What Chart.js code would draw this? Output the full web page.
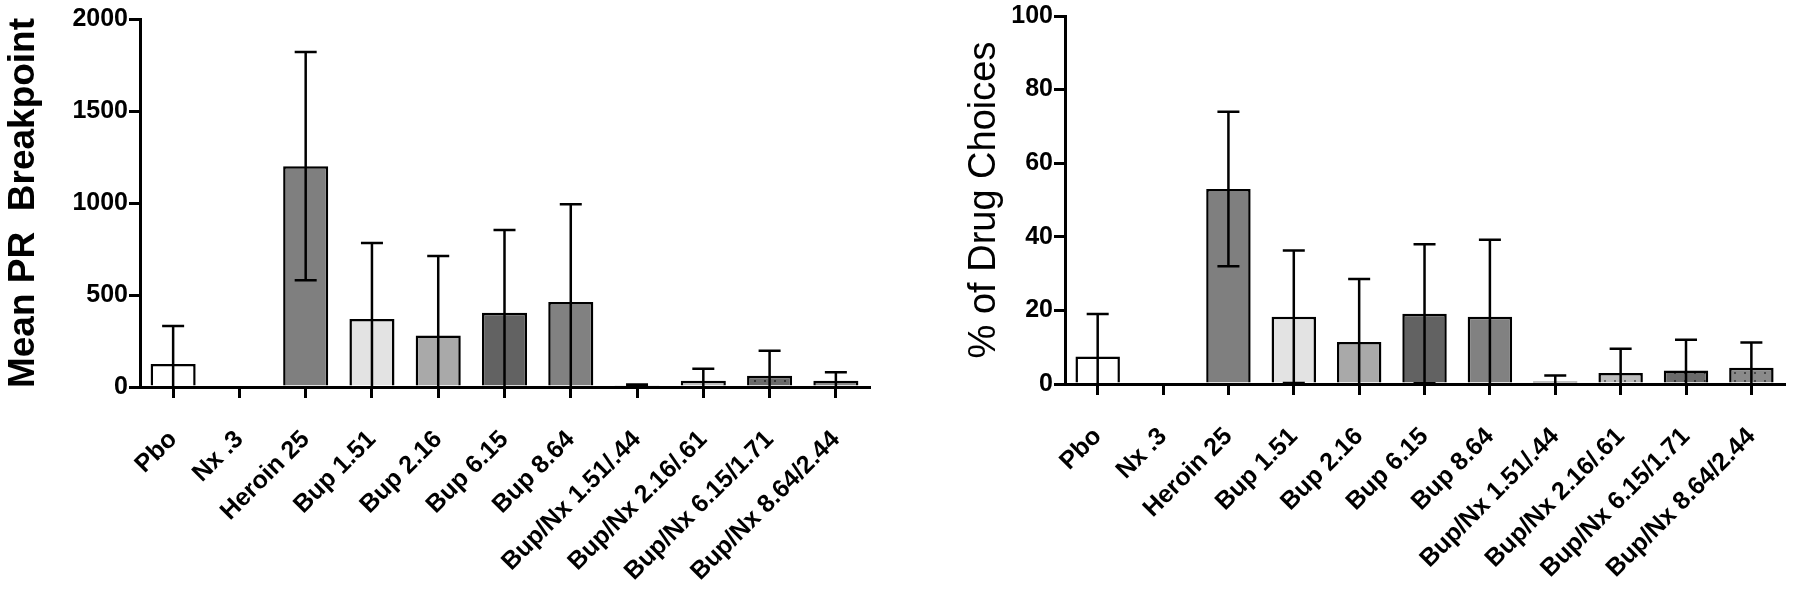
<!DOCTYPE html>
<html>
<head>
<meta charset="utf-8">
<script src="https://cdn.jsdelivr.net/npm/chart.js@4.4.1/dist/chart.umd.min.js"></script>
<style>
  html, body { margin: 0; padding: 0; background: #fff; }
  body { width: 1800px; height: 590px; position: relative; overflow: hidden; }
  .panel { position: absolute; top: 0; height: 590px; }
  #prPanel { left: 0; width: 900px; }
  #choicePanel { left: 960px; width: 840px; }
</style>
</head>
<body>
<div class="panel" id="prPanel"><canvas id="prChart"></canvas></div>
<div class="panel" id="choicePanel"><canvas id="choiceChart"></canvas></div>
<script>
// data
const categories = ['Pbo', 'Nx .3', 'Heroin 25', 'Bup 1.51', 'Bup 2.16', 'Bup 6.15', 'Bup 8.64',
    'Bup/Nx 1.51/.44', 'Bup/Nx 2.16/.61', 'Bup/Nx 6.15/1.71', 'Bup/Nx 8.64/2.44'];
const prMean = [125, 0, 1200, 370, 280, 404, 462, 10, 34, 61, 34];
const prErr = [207, 0, 620, 413, 432, 449, 531, 4, 65, 136, 46];
const prTicks = [0, 500, 1000, 1500, 2000];
const choiceMean = [7.5, 0, 53, 18.3, 11.4, 19.1, 18.3, 0.7, 3.0, 3.7, 4.4];
const choiceErr = [11.5, 0, 21, 18, 17.1, 18.9, 20.9, 1.6, 6.6, 8.3, 6.9];
const choiceTicks = [0, 20, 40, 60, 80, 100];

const FONT = '"Liberation Sans", Arial, Helvetica, sans-serif';

// dotted fill used for the Bup/Nx bars
function dotted(base, dot) {
    const c = document.createElement('canvas');
    c.width = 10;
    c.height = 8;
    const g = c.getContext('2d');
    g.fillStyle = base;
    g.fillRect(0, 0, 10, 8);
    g.fillStyle = dot;
    g.fillRect(4, 4, 2, 2);
    return g.createPattern(c, 'repeat');
}

const barFills = ['#ffffff', '#ffffff', '#7f7f7f', '#e3e3e3', '#a9a9a9', '#626262', '#818181',
    '#222222', dotted('#bdbdbd', '#6a6a6a'), dotted('#6a6a6a', '#333333'), dotted('#8a8a8a', '#4a4a4a')];

// mean +/- error whiskers, clipped at zero like the original
const errorBars = {
    id: 'errorBars',
    afterDatasetsDraw(chart) {
        const ctx = chart.ctx;
        const y = chart.scales.y;
        const ds = chart.data.datasets[0];
        const meta = chart.getDatasetMeta(0);
        ctx.save();
        ctx.strokeStyle = '#000';
        ctx.lineWidth = 2.5;
        meta.data.forEach((bar, i) => {
            const m = ds.data[i], e = ds.errors[i];
            if (!e) return;
            const top = y.getPixelForValue(m + e);
            const lowV = m - e;
            const low = y.getPixelForValue(Math.max(0, lowV));
            ctx.beginPath();
            ctx.moveTo(bar.x, top);
            ctx.lineTo(bar.x, low);
            ctx.moveTo(bar.x - 11, top);
            ctx.lineTo(bar.x + 11, top);
            if (lowV > 0) {
                ctx.moveTo(bar.x - 11, low);
                ctx.lineTo(bar.x + 11, low);
            }
            ctx.stroke();
        });
        ctx.restore();
    }
};

function createBarChart(id, mean, err, ticks, title, titleWeight, titleSize, yWidth, xHeight, padding) {
    const ctx = document.getElementById(id).getContext('2d');
    return new Chart(ctx, {
        type: 'bar',
        data: {
            labels: categories,
            datasets: [{
                data: mean,
                errors: err,
                backgroundColor: barFills,
                borderColor: '#000',
                borderWidth: 2.5,
                barPercentage: 0.68,
                categoryPercentage: 1
            }]
        },
        options: {
            responsive: true,
            maintainAspectRatio: false,
            animation: false,
            layout: { padding: padding },
            plugins: {
                legend: { display: false },
                tooltip: { enabled: false }
            },
            scales: {
                x: {
                    z: 1,
                    border: { color: '#000', width: 3 },
                    grid: {
                        offset: false,
                        drawOnChartArea: false,
                        color: '#000',
                        lineWidth: 3,
                        tickLength: 11
                    },
                    ticks: {
                        color: '#000',
                        font: { family: FONT, size: 25, weight: 'bold' },
                        minRotation: 45,
                        maxRotation: 45,
                        autoSkip: false,
                        padding: 27
                    },
                    afterFit(scale) { scale.height = xHeight; }
                },
                y: {
                    z: 1,
                    min: ticks[0],
                    max: ticks[ticks.length - 1],
                    border: { color: '#000', width: 3 },
                    grid: {
                        drawOnChartArea: false,
                        color: '#000',
                        lineWidth: 3,
                        tickLength: 11
                    },
                    ticks: {
                        color: '#000',
                        font: { family: FONT, size: 25, weight: 'bold' },
                        padding: 1,
                        callback: v => String(v)
                    },
                    afterBuildTicks(scale) {
                        scale.ticks = ticks.map(v => ({ value: v }));
                    },
                    title: {
                        display: true,
                        text: title,
                        color: '#000',
                        font: { family: FONT, size: titleSize, weight: titleWeight },
                        padding: { top: 2, bottom: 2 }
                    },
                    afterFit(scale) { scale.width = yWidth; }
                }
            }
        },
        plugins: [errorBars]
    });
}

createBarChart('prChart', prMean, prErr, prTicks, 'Mean PR  Breakpoint', 'bold', 37, 140, 203,
    { top: 19, right: 31, left: 0, bottom: 0 });
createBarChart('choiceChart', choiceMean, choiceErr, choiceTicks, '% of Drug Choices', 'normal', 38, 105, 206,
    { top: 16, right: 9, left: 0, bottom: 0 });
</script>
</body>
</html>
